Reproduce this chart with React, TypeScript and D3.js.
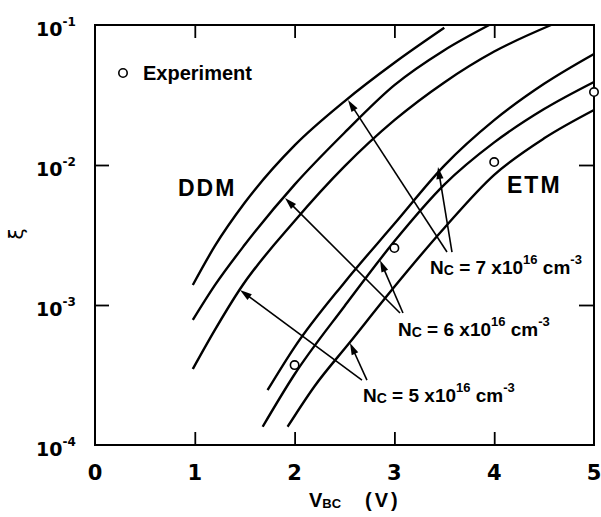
import React, { useEffect, useRef } from "react";
import * as d3 from "d3";

// computed curves, V_BC (V) vs xi
const ddm7V = [0.98, 1.2, 1.5, 2.0, 2.5, 3.0, 3.5];
const ddm7Xi = [1.39e-3, 2.63e-3, 5.37e-3, 1.38e-2, 2.85e-2, 5.37e-2, 9.55e-2];
const ddm6V = [0.98, 1.2, 1.5, 2.0, 2.5, 3.0, 3.5, 3.95];
const ddm6Xi = [7.82e-4, 1.38e-3, 2.69e-3, 7.24e-3, 1.7e-2, 3.72e-2, 6.61e-2, 1.0e-1];
const ddm5V = [0.98, 1.2, 1.45, 2.0, 2.5, 3.0, 3.5, 4.0, 4.57];
const ddm5Xi = [3.49e-4, 6.61e-4, 1.29e-3, 3.98e-3, 9.77e-3, 2.09e-2, 3.89e-2, 6.46e-2, 1.0e-1];
const etm7V = [1.73, 2.0, 2.5, 3.0, 3.5, 4.0, 4.5, 5.0];
const etm7Xi = [2.47e-4, 5.0e-4, 1.45e-3, 3.8e-3, 9.9e-3, 2.09e-2, 3.8e-2, 6.21e-2];
const etm6V = [1.68, 2.0, 2.5, 3.0, 3.5, 4.0, 4.5, 5.0];
const etm6Xi = [1.35e-4, 3.2e-4, 9.8e-4, 2.85e-3, 7.24e-3, 1.45e-2, 2.51e-2, 3.92e-2];
const etm5V = [1.93, 2.2, 2.55, 3.0, 3.5, 4.0, 4.5, 5.0];
const etm5Xi = [1.35e-4, 2.63e-4, 5.37e-4, 1.35e-3, 3.55e-3, 8.51e-3, 1.55e-2, 2.47e-2];

// measured points
const expV = [2, 3, 4, 5];
const expXi = [3.72e-4, 2.55e-3, 1.05e-2, 3.32e-2];

// N_C annotations (7, 6, 5 x10^16) and their arrows
const ncValues = ["7", "6", "5"];
const labelV = [3.357, 3.036, 2.685];
const labelXi = [1.66e-3, 6.01e-4, 2.03e-4];
const ddmTailV = [3.527, 3.056, 2.675];
const etmTailV = [3.577, 3.086, 2.725];
const tailXi = [2.39e-3, 8.77e-4, 2.91e-4];
const ddmHeadV = [2.535, 1.904, 1.453];
const ddmHeadXi = [2.91e-2, 5.81e-3, 1.28e-3];
const etmHeadV = [3.437, 2.856, 2.555];
const etmHeadXi = [9.68e-3, 2.09e-3, 5.36e-4];

const xTicks = [0, 1, 2, 3, 4, 5];
const yTicks = [1e-1, 1e-2, 1e-3, 1e-4];
const yExp = ["-1", "-2", "-3", "-4"];

const helv = "'Liberation Sans', Arial, sans-serif";
const wide = "'DejaVu Sans', sans-serif";

function Chart() {
  const ref = useRef(null);
  const w = 601;
  const h = 517;

  useEffect(() => {
    const g = d3.select(ref.current);
    g.selectAll("*").remove();

    const x = d3.scaleLinear().domain([0, 5]).range([95, 594]);
    const y = d3.scaleLog().domain([1e-4, 1e-1]).range([445, 25]);

    // frame
    g.append("rect")
      .attr("x", x(0))
      .attr("y", y(1e-1))
      .attr("width", x(5) - x(0))
      .attr("height", y(1e-4) - y(1e-1))
      .attr("fill", "none")
      .attr("stroke", "#000")
      .attr("stroke-width", 2);

    // inward ticks on all four sides
    const bottom = g.append("g").attr("transform", `translate(0,${y(1e-4)})`)
      .call(d3.axisBottom(x).tickValues([1, 2, 3, 4]).tickSize(-13).tickFormat(() => ""));
    const top = g.append("g").attr("transform", `translate(0,${y(1e-1)})`)
      .call(d3.axisTop(x).tickValues([1, 2, 3, 4]).tickSize(-13).tickFormat(() => ""));
    const left = g.append("g").attr("transform", `translate(${x(0)},0)`)
      .call(d3.axisLeft(y).tickValues([1e-2, 1e-3]).tickSize(-14).tickFormat(() => ""));
    const right = g.append("g").attr("transform", `translate(${x(5)},0)`)
      .call(d3.axisRight(y).tickValues([1e-2, 1e-3]).tickSize(-15).tickFormat(() => ""));
    [bottom, top, left, right].forEach(a => {
      a.select(".domain").remove();
      a.selectAll("line").attr("stroke", "#000").attr("stroke-width", 1.8);
    });

    // tick labels
    g.selectAll(".xl")
      .data(xTicks)
      .enter()
      .append("text")
      .attr("x", d => x(d))
      .attr("y", 480)
      .attr("text-anchor", "middle")
      .style("font", `bold 21px ${wide}`)
      .text(d => d);

    yTicks.forEach((v, i) => {
      const t = g.append("text")
        .attr("x", 36)
        .attr("y", y(v) + 11)
        .style("font", `bold 19px ${wide}`);
      t.append("tspan").text("10");
      t.append("tspan").attr("dy", -10).style("font-size", "12px").text(yExp[i]);
    });

    // axis titles
    const xt = g.append("text").attr("x", 309).attr("y", 507).style("font", `bold 20px ${helv}`);
    xt.append("tspan").text("V");
    xt.append("tspan").attr("dy", 1).style("font-size", "13px").text("BC");
    xt.append("tspan").attr("x", 365).attr("dy", -1).style("letter-spacing", "3px").text("(V)");

    g.append("text")
      .attr("transform", "translate(23,234) rotate(-90)")
      .attr("text-anchor", "middle")
      .style("font", `20px ${wide}`)
      .text("ξ");

    // curves
    const line = d3.line()
      .x(d => x(d[0]))
      .y(d => y(d[1]))
      .curve(d3.curveMonotoneX);
    const curves = [
      [ddm7V, ddm7Xi], [ddm6V, ddm6Xi], [ddm5V, ddm5Xi],
      [etm7V, etm7Xi], [etm6V, etm6Xi], [etm5V, etm5Xi]
    ];
    curves.forEach(([vs, xs]) => {
      g.append("path")
        .attr("d", line(vs.map((v, i) => [v, xs[i]])))
        .attr("fill", "none")
        .attr("stroke", "#000")
        .attr("stroke-width", 2.4);
    });

    // experiment circles
    g.selectAll(".exp")
      .data(expV)
      .enter()
      .append("circle")
      .attr("cx", d => x(d))
      .attr("cy", (d, i) => y(expXi[i]))
      .attr("r", 4.2)
      .attr("fill", "#fff")
      .attr("stroke", "#000")
      .attr("stroke-width", 1.6);

    // arrows
    const arrow = (tx, ty, hx, hy) => {
      const dx = hx - tx;
      const dy = hy - ty;
      const len = Math.sqrt(dx * dx + dy * dy);
      const ux = dx / len;
      const uy = dy / len;
      const L = 12;
      const W = 3.6;
      const bx = hx - ux * L;
      const by = hy - uy * L;
      g.append("line")
        .attr("x1", tx).attr("y1", ty)
        .attr("x2", bx + ux * 2).attr("y2", by + uy * 2)
        .attr("stroke", "#000")
        .attr("stroke-width", 1.6);
      g.append("polygon")
        .attr("points", `${hx},${hy} ${bx - uy * W},${by + ux * W} ${bx + uy * W},${by - ux * W}`)
        .attr("fill", "#000");
    };
    ncValues.forEach((n, i) => {
      arrow(x(ddmTailV[i]), y(tailXi[i]), x(ddmHeadV[i]), y(ddmHeadXi[i]));
      arrow(x(etmTailV[i]), y(tailXi[i]), x(etmHeadV[i]), y(etmHeadXi[i]));

      const t = g.append("text")
        .attr("x", x(labelV[i]))
        .attr("y", y(labelXi[i]))
        .style("font", `bold 19px ${helv}`)
        .style("white-space", "pre");
      t.append("tspan").text("N");
      t.append("tspan").attr("dy", 1).style("font-size", "14px").text("C");
      t.append("tspan").attr("dy", -1).text(` = ${n} x10`);
      t.append("tspan").attr("dy", -10).style("font-size", "13px").text("16");
      t.append("tspan").attr("dy", 10).text(" cm");
      t.append("tspan").attr("dy", -10).style("font-size", "13px").text("-3");
    });

    // region labels
    g.append("text").attr("x", 178).attr("y", 196)
      .style("font", `bold 23px ${helv}`).style("letter-spacing", "2px").text("DDM");
    g.append("text").attr("x", 507).attr("y", 193)
      .style("font", `bold 23px ${helv}`).style("letter-spacing", "2px").text("ETM");

    // legend
    g.append("circle").attr("cx", 123).attr("cy", 73).attr("r", 4.2)
      .attr("fill", "#fff").attr("stroke", "#000").attr("stroke-width", 1.6);
    g.append("text").attr("x", 143).attr("y", 80)
      .style("font", `bold 20px ${helv}`).text("Experiment");
  }, []);

  return (
    <svg width={w} height={h} style={{ position: "absolute", left: 0, top: 0, background: "#fff" }}>
      <g ref={ref}></g>
    </svg>
  );
}

export default function App() {
  return <Chart />;
}
